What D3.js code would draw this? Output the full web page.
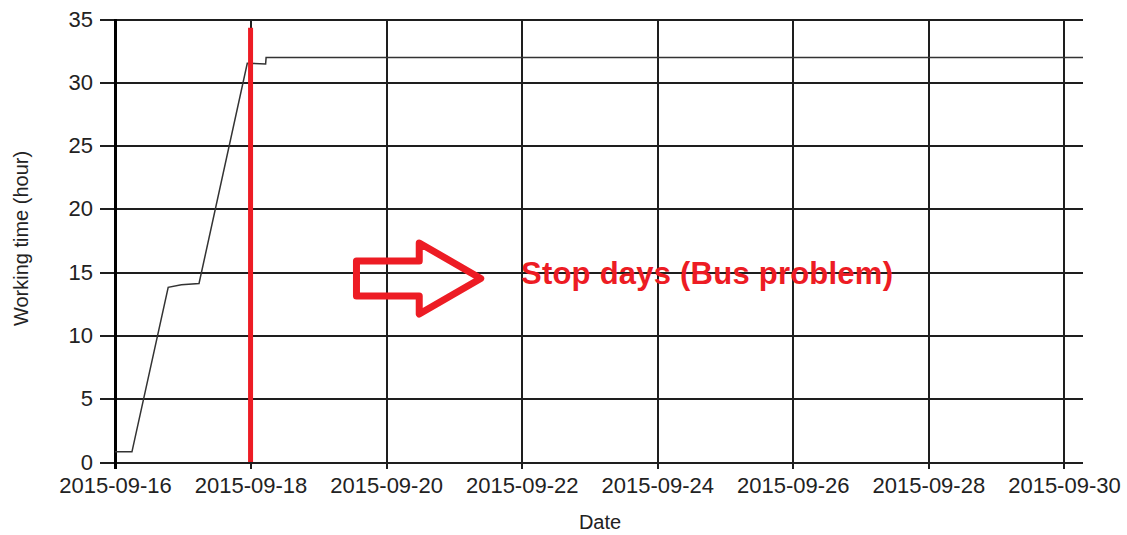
<!DOCTYPE html>
<html>
<head>
<meta charset="utf-8">
<script src="https://cdn.jsdelivr.net/npm/d3@7"></script>
<style>
  body { margin: 0; background: white; }
  svg { display: block; }
  text { font-family: "Liberation Sans", Arial, sans-serif; }
</style>
</head>
<body>
<svg id="chart"></svg>
<script>
var WIDTH = 1127,
    HEIGHT = 535,
    PLOT = {left: 115, right: 1083, top: 19, bottom: 462},
    GRID_COLOR = "#1e1e1e",
    LINE_COLOR = "#333",
    NOTE_COLOR = "#ed1c24";

// series: time stamp, working hours
var times = ["2015-09-16T00:00", "2015-09-16T06:00", "2015-09-16T18:50", "2015-09-16T23:30",
             "2015-09-17T05:45", "2015-09-17T22:50", "2015-09-18T05:20", "2015-09-18T05:30",
             "2015-09-30T06:45"];
var hours = [0.8, 0.8, 13.8, 14.0, 14.1, 31.5, 31.45, 31.95, 31.95];

var xDomain = ["2015-09-16T00:00", "2015-09-30T06:45"];
var yDomain = [0, 35];
var xTicks = ["2015-09-16", "2015-09-18", "2015-09-20", "2015-09-22",
              "2015-09-24", "2015-09-26", "2015-09-28", "2015-09-30"];
var yTicks = [0, 5, 10, 15, 20, 25, 30, 35];

// annotations
var markerDate = "2015-09-18T00:00", markerTop = 34.3;
var arrowFrom = "2015-09-19T13:30", arrowTo = "2015-09-21T09:30", arrowHour = 14.5;
var noteDate = "2015-09-21T23:45", noteHour = 14.1, noteText = "Stop days (Bus problem)";

var parseTime = d3.timeParse("%Y-%m-%dT%H:%M"),
    parseDay = d3.timeParse("%Y-%m-%d");

var x = d3.scaleTime()
    .domain(xDomain.map(parseTime))
    .range([PLOT.left, PLOT.right]);
var y = d3.scaleLinear()
    .domain(yDomain)
    .range([PLOT.bottom, PLOT.top]);

var svg = d3.select("#chart")
    .attr("width", WIDTH)
    .attr("height", HEIGHT)
    .style("background", "white");

// horizontal grid + left ticks
var yGrid = svg.append("g")
    .attr("transform", "translate(" + PLOT.right + ",0)")
    .call(d3.axisLeft(y).tickValues(yTicks).tickSize(PLOT.right - PLOT.left + 15).tickFormat(""));
yGrid.select(".domain").remove();
yGrid.selectAll("line")
    .style("stroke", GRID_COLOR)
    .style("stroke-width", 2)
    .style("shape-rendering", "crispEdges");

// vertical grid + bottom ticks
var xGrid = svg.append("g")
    .attr("transform", "translate(0," + (PLOT.bottom + 7) + ")")
    .call(d3.axisTop(x).tickValues(xTicks.map(parseDay)).tickSize(PLOT.bottom + 7 - PLOT.top).tickFormat(""));
xGrid.select(".domain").remove();
xGrid.selectAll("line")
    .style("stroke", GRID_COLOR)
    .style("stroke-width", 2)
    .style("shape-rendering", "crispEdges");

// y axis line
svg.append("line")
    .attr("x1", PLOT.left)
    .attr("x2", PLOT.left)
    .attr("y1", PLOT.top)
    .attr("y2", PLOT.bottom + 7)
    .style("stroke", "black")
    .style("stroke-width", 3)
    .style("shape-rendering", "crispEdges");

// tick labels
var yLab = svg.append("g")
    .attr("transform", "translate(" + PLOT.left + ",0)")
    .call(d3.axisLeft(y).tickValues(yTicks).tickSize(0).tickPadding(22));
yLab.select(".domain").remove();
yLab.selectAll("text")
    .style("font-size", "22px")
    .style("fill", "#222");

var xLab = svg.append("g")
    .attr("transform", "translate(0," + PLOT.bottom + ")")
    .call(d3.axisBottom(x).tickValues(xTicks.map(parseDay)).tickSize(0).tickPadding(15)
        .tickFormat(d3.timeFormat("%Y-%m-%d")));
xLab.select(".domain").remove();
xLab.selectAll("text")
    .style("font-size", "22px")
    .style("fill", "#222");

// axis titles
svg.append("text")
    .attr("x", (PLOT.left + PLOT.right) / 2 + 1)
    .attr("y", 529)
    .style("font-size", "20px")
    .style("fill", "#222")
    .style("text-anchor", "middle")
    .text("Date");
svg.append("text")
    .attr("transform", "translate(28," + ((PLOT.top + PLOT.bottom) / 2 - 2) + ") rotate(-90)")
    .style("font-size", "20px")
    .style("fill", "#222")
    .style("text-anchor", "middle")
    .text("Working time (hour)");

// the series
var series = times.map(function(t, i) { return {t: parseTime(t), h: hours[i]}; });
svg.append("path")
    .datum(series)
    .attr("d", d3.line().x(function(d) { return x(d.t); }).y(function(d) { return y(d.h); }))
    .style("fill", "none")
    .style("stroke", LINE_COLOR)
    .style("stroke-width", 1.5);

// red marker line
svg.append("line")
    .attr("x1", x(parseTime(markerDate)))
    .attr("x2", x(parseTime(markerDate)))
    .attr("y1", y(markerTop))
    .attr("y2", y(0))
    .style("stroke", NOTE_COLOR)
    .style("stroke-width", 5);

// outlined arrow
var ax0 = x(parseTime(arrowFrom)),
    ax1 = x(parseTime(arrowTo)),
    ay = y(arrowHour),
    shaft = 17.5, head = 35.5, headLen = 61.5;
var arrowPts = [
    [ax0, ay - shaft], [ax1 - headLen, ay - shaft], [ax1 - headLen, ay - head],
    [ax1, ay], [ax1 - headLen, ay + head], [ax1 - headLen, ay + shaft], [ax0, ay + shaft]
];
svg.append("path")
    .attr("d", "M" + arrowPts.map(function(p) { return p.join(","); }).join("L") + "Z")
    .style("fill", "none")
    .style("stroke", NOTE_COLOR)
    .style("stroke-width", 7)
    .style("stroke-linejoin", "round");

svg.append("text")
    .attr("x", x(parseTime(noteDate)))
    .attr("y", y(noteHour))
    .style("font-size", "31px")
    .style("font-weight", "bold")
    .style("fill", NOTE_COLOR)
    .attr("textLength", 372)
    .text(noteText);
</script>
</body>
</html>
